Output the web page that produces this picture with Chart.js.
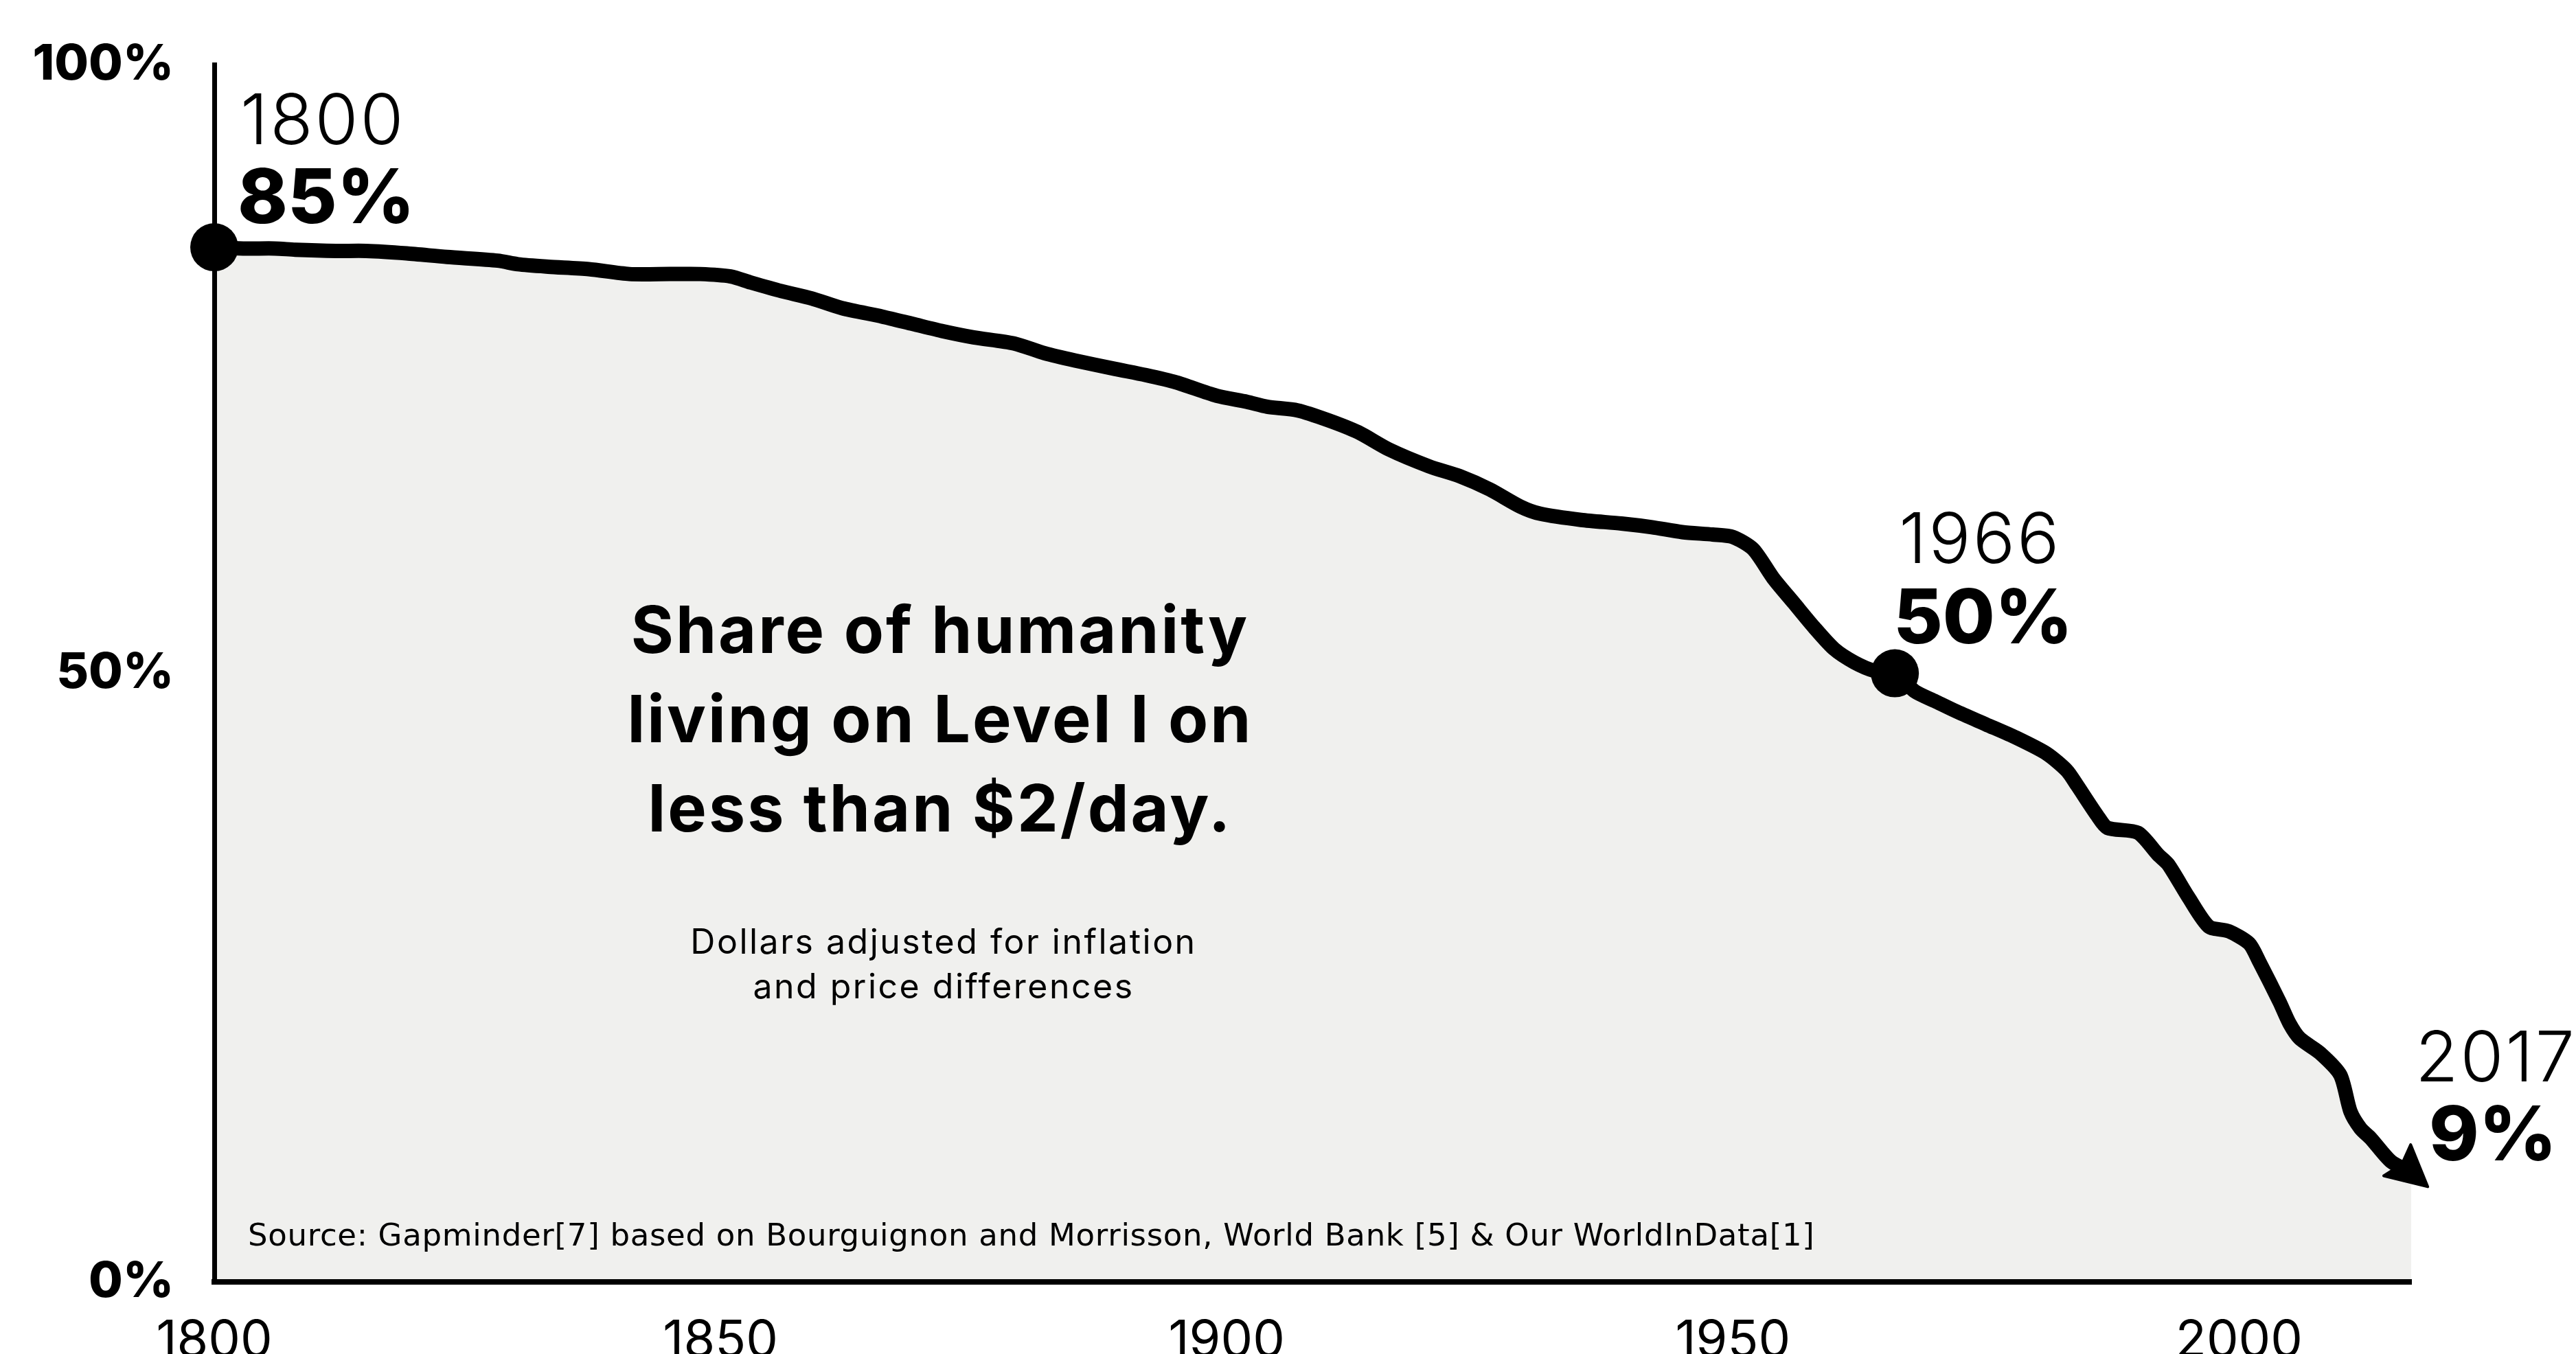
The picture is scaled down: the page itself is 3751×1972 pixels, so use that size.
<!DOCTYPE html>
<html>
<head>
<meta charset="utf-8">
<script src="https://cdn.jsdelivr.net/npm/chart.js@4.4.1/dist/chart.umd.min.js"></script>
<style>
  html, body { margin: 0; padding: 0; background: #fff; }
  #wrap { width: 3751px; height: 1972px; }
</style>
</head>
<body>
<div id="wrap"><canvas id="chart" width="3751" height="1972"></canvas></div>
<script>
// Share of world population in extreme poverty, 1800-2017 (%)
const years = [
  1800, 1803, 1806, 1808, 1812, 1815, 1819, 1823, 1828, 1830,
  1833, 1837, 1841, 1845, 1848, 1851, 1853, 1856, 1859, 1862,
  1866, 1869, 1872, 1875, 1879, 1882, 1885, 1889, 1892, 1895,
  1899, 1902, 1904, 1907, 1910, 1913, 1916, 1920, 1923, 1926,
  1929, 1931, 1935, 1939, 1942, 1945, 1948, 1950, 1952, 1954,
  1956, 1958, 1960, 1962, 1964, 1966, 1968, 1970, 1972, 1975,
  1978, 1981, 1983, 1984, 1986, 1987, 1990, 1992, 1993, 1995,
  1997, 1999, 2001, 2002, 2004, 2005, 2006, 2008, 2010, 2011,
  2012, 2013, 2015, 2017
];
const share = [
  85.0, 84.9, 84.9, 84.8, 84.7, 84.7, 84.5, 84.2, 83.9, 83.6,
  83.4, 83.2, 82.8, 82.8, 82.8, 82.6, 82.1, 81.4, 80.8, 80.0,
  79.3, 78.7, 78.1, 77.6, 77.1, 76.3, 75.7, 75.0, 74.5, 73.9,
  72.8, 72.3, 71.9, 71.6, 70.8, 69.8, 68.4, 67.0, 66.2, 65.1,
  63.7, 63.1, 62.6, 62.3, 62.0, 61.6, 61.4, 61.2, 60.2, 57.8,
  55.8, 53.8, 52.0, 50.9, 50.2, 50.0, 48.5, 47.7, 46.9, 45.8,
  44.7, 43.4, 42.0, 40.8, 38.3, 37.3, 36.9, 35.1, 34.3, 31.6,
  29.2, 28.8, 27.8, 26.3, 23.0, 21.2, 20.0, 18.8, 17.0, 14.0,
  12.6, 11.8, 9.9, 9.0
];
const xTicks = [1800, 1850, 1900, 1950, 2000];
const yTicks = [0, 50, 100];
const dotYears = [1800, 1966];
const calloutYears = [1800, 1966, 2017];
const calloutShare = [85, 50, 9];

const FONT = 'Inter, "Noto Sans", sans-serif';
const INK = '#000';
const AREA = '#f0f0ee';

// text offsets of each callout from its point, px: [yearDx, yearDy, pctDx, pctDy]
const calloutOffsets = [
  [38, -150, 34, -35],
  [6, -161, -2, -44],
  [6, -132, 26, -17]
];

const arrowHead = {
  id: 'arrowHead',
  afterDatasetsDraw(chart) {
    const pts = chart.getDatasetMeta(0).data;
    const end = pts[pts.length - 1];
    const back = pts[pts.length - 4];
    let dx = end.x - back.x, dy = end.y - back.y;
    const len = Math.hypot(dx, dy);
    dx /= len; dy /= len;
    const nx = -dy, ny = dx;
    const tipX = end.x + dx * 32, tipY = end.y + dy * 32;
    const bx = end.x - dx * 27, by = end.y - dy * 27;
    const c = chart.ctx;
    c.save();
    c.fillStyle = INK;
    c.strokeStyle = INK;
    c.lineJoin = 'round';
    c.lineWidth = 4;
    c.beginPath();
    c.moveTo(tipX, tipY);
    c.lineTo(bx + nx * 30, by + ny * 30);
    c.lineTo(bx + dx * 9, by + dy * 9);
    c.lineTo(bx - nx * 30, by - ny * 30);
    c.closePath();
    c.fill();
    c.stroke();
    c.restore();
  }
};

const labels = {
  id: 'labels',
  afterDraw(chart) {
    const c = chart.ctx;
    const xs = chart.scales.x, ys = chart.scales.y;
    c.save();
    c.fillStyle = INK;
    c.textBaseline = 'alphabetic';

    // callouts next to the marked years
    c.textAlign = 'left';
    calloutYears.forEach((yr, i) => {
      const px = xs.getPixelForValue(yr);
      const py = ys.getPixelForValue(calloutShare[i]);
      const o = calloutOffsets[i];
      c.letterSpacing = '3px';
      c.font = '300 102px ' + FONT;
      c.fillText(String(yr), px + o[0], py + o[1]);
      c.letterSpacing = '0px';
      c.font = '800 110px ' + FONT;
      c.fillText(calloutShare[i] + '%', px + o[2], py + o[3]);
    });

    // headline
    c.textAlign = 'center';
    c.letterSpacing = '3px';
    c.font = '700 95px ' + FONT;
    c.fillText('Share of humanity', 1369, 951);
    c.fillText('living on Level I on', 1369, 1081);
    c.fillText('less than $2/day.', 1369, 1211);

    c.letterSpacing = '2.5px';
    c.font = '400 50px ' + FONT;
    c.fillText('Dollars adjusted for inflation', 1374, 1389);
    c.fillText('and price differences', 1374, 1454);

    c.textAlign = 'left';
    c.letterSpacing = '0.7px';
    c.font = '400 45px "DejaVu Sans", sans-serif';
    c.fillText('Source: Gapminder[7] based on Bourguignon and Morrisson, World Bank [5] & Our WorldInData[1]', 361, 1814);
    c.restore();
  }
};

new Chart(document.getElementById('chart'), {
  type: 'line',
  data: {
    datasets: [{
      data: years.map((yr, i) => ({ x: yr, y: share[i] })),
      borderColor: INK,
      borderWidth: 21,
      borderJoinStyle: 'round',
      borderCapStyle: 'round',
      tension: 0.25,
      fill: 'origin',
      backgroundColor: AREA,
      clip: false,
      pointRadius: ctx => dotYears.includes(years[ctx.dataIndex]) ? 35 : 0,
      pointHoverRadius: ctx => dotYears.includes(years[ctx.dataIndex]) ? 35 : 0,
      pointBackgroundColor: INK,
      pointBorderWidth: 0
    }]
  },
  options: {
    responsive: false,
    animation: false,
    devicePixelRatio: 1,
    events: [],
    layout: {
      padding: { left: 0, right: 240, top: 76, bottom: 0 }
    },
    plugins: {
      legend: { display: false },
      tooltip: { enabled: false }
    },
    scales: {
      x: {
        type: 'linear',
        min: 1800,
        max: 2017,
        afterBuildTicks: s => { s.ticks = xTicks.map(v => ({ value: v })); },
        afterFit: s => { s.height = 105; },
        grid: { display: false },
        border: { display: true, color: INK, width: 8, z: 1 },
        ticks: {
          padding: 34,
          color: INK,
          font: { family: FONT, size: 74, weight: '400' },
          callback: v => String(v)
        }
      },
      y: {
        min: 0,
        max: 100,
        afterBuildTicks: s => { s.ticks = yTicks.map(v => ({ value: v })); },
        afterFit: s => { s.width = 312; },
        grid: { display: false },
        border: { display: true, color: INK, width: 7, z: 1 },
        ticks: {
          padding: 51,
          color: INK,
          font: { family: FONT, size: 72, weight: '800' },
          callback: v => v + '%'
        }
      }
    }
  },
  plugins: [arrowHead, labels]
});
</script>
</body>
</html>
